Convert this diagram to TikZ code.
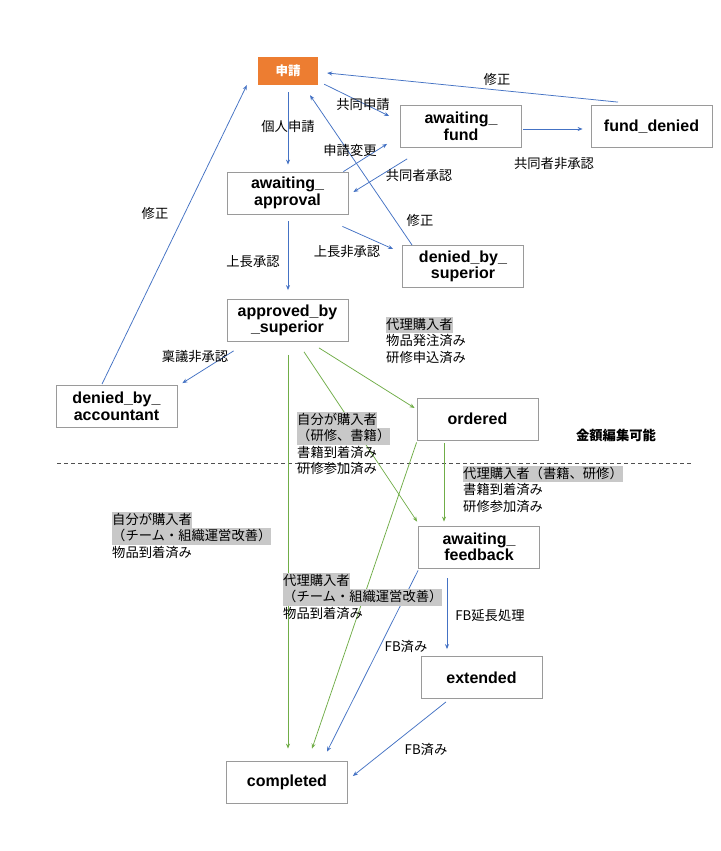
\documentclass[tikz,border=0pt]{standalone}
\usepackage{fontspec}
\setmainfont{Liberation Sans}
\newfontfamily\cjk{Noto Sans CJK JP}
\usetikzlibrary{arrows.meta,calc}
\definecolor{mblue}{HTML}{4472C4}
\definecolor{mgreen}{HTML}{70AD47}
\definecolor{morange}{HTML}{ED7D31}
\definecolor{hlgray}{HTML}{C8C8C8}
\definecolor{boxgray}{HTML}{9A9A9A}
\definecolor{dashgray}{HTML}{505050}
\newcommand{\hlline}[1]{{\setlength{\fboxsep}{0pt}\colorbox{hlgray}{\rule[-4pt]{0pt}{16.5pt}#1}}}
\newcommand{\plline}[1]{\rule[-4pt]{0pt}{16.5pt}#1}
\tikzset{
 state/.style={draw=boxgray, line width=0.8pt, fill=white, minimum width=121pt, minimum height=42pt, inner sep=0pt, align=center, font=\fontsize{16}{16.5}\selectfont\bfseries},
 lbl/.style={inner sep=0pt, font=\cjk\fontsize{13.3}{16}\selectfont},
 blk/.style={inner sep=0pt, anchor=north west, align=left, font=\cjk\fontsize{13.3}{16.5}\selectfont},
 barrow/.style={draw=mblue, line width=0.75pt, -{Stealth[length=5pt,width=4pt]}},
 garrow/.style={draw=mgreen, line width=0.75pt, -{Stealth[length=5pt,width=4pt]}},
 divider/.style={draw=dashgray, line width=1pt, dash pattern=on 4pt off 3pt},
}
\begin{document}
\begin{tikzpicture}[x=1pt,y=-1pt]
\useasboundingbox (0,0) rectangle (720,851);
\fill[white] (0,0) rectangle (720,851);

% states
\node[fill=morange, minimum width=60pt, minimum height=28pt, inner sep=0pt, text=white, font=\cjk\bfseries\fontsize{12.5}{14}\selectfont] (shinsei) at (288,71) {申請};
\node[state] (af) at (461,126.5) {awaiting\_\\fund};
\node[state] (fd) at (651.5,126.5) {fund\_denied};
\node[state] (aa) at (287.5,193) {awaiting\_\\approval};
\node[state] (dbs) at (463,266.5) {denied\_by\_\\superior};
\node[state] (abs) at (287.5,320.5) {approved\_by\\\_superior};
\node[state] (dba) at (116.5,406.5) {denied\_by\_\\accountant};
\node[state] (ord) at (477.5,419) {ordered};
\node[state] (afb) at (479,547) {awaiting\_\\feedback};
\node[state] (ext) at (481.5,677.5) {extended};
\node[state] (comp) at (287,782) {completed};

% divider
\coordinate (dl) at (57,463);
\coordinate (dr) at (693,463);
\draw[divider] (dl) -- (dr);

% blue connectors
\draw[barrow] ($(shinsei.south)+(0,7)$) -- ($(aa.north)+(0.5,-7)$);
\draw[barrow] ($(aa.south)+(0.5,7)$) -- ($(abs.north)+(0.5,-9)$);
\draw[barrow] ($(shinsei.south east)+(6,-1)$) -- ($(af.west)+(-11,-10.5)$);
\draw[barrow] ($(af.east)+(1,2.5)$) -- ($(fd.west)+(-8,2.5)$);
\draw[barrow] ($(fd.north)+(-33.5,-3)$) -- ($(shinsei.east)+(9,2)$);
\draw[barrow] ($(aa.north east)+(-5,0)$) -- ($(af.south west)+(-13,-4)$);
\draw[barrow] ($(af.south west)+(7,11)$) -- ($(aa.east)+(5,-1)$);
\draw[barrow] ($(dbs.north west)+(10,0)$) -- ($(shinsei.south)+(22,10)$);
\draw[barrow] ($(aa.south east)+(-6,12)$) -- ($(dbs.west)+(-9,-17.5)$);
\draw[barrow] ($(dba.north)+(-14.5,-1)$) -- ($(shinsei.south west)+(-11,0)$);
\draw[barrow] ($(abs.south west)+(7,9)$) -- ($(dba.north east)+(5,-2)$);
\draw[barrow] ($(afb.south)+(-32,10)$) -- ($(ext.north)+(-34.5,-7)$);
\draw[barrow] ($(afb.south west)+(0,2)$) -- ($(comp.north)+(40,-9)$);
\draw[barrow] ($(ext.south)+(-35.5,3)$) -- ($(comp.east)+(5,-6)$);

% green connectors
\draw[garrow] ($(abs.south)+(0.5,13)$) -- ($(comp.north)+(1,-12)$);
\draw[garrow] ($(abs.south)+(31.5,6)$) -- ($(ord.west)+(-2,-11)$);
\draw[garrow] ($(abs.south)+(16.5,10)$) -- ($(afb.north west)+(-1,-4)$);
\draw[garrow] ($(ord.south)+(-33.5,3)$) -- ($(afb.north)+(-35,-4)$);
\draw[garrow] ($(ord.south west)+(0,2)$) -- ($(comp.north)+(25,-12)$);

% connector labels
\node[lbl] (t1) at (288,126) {個人申請};
\node[lbl] (t2) at (363,104) {共同申請};
\node[lbl] (t3) at (350,150) {申請変更};
\node[lbl] (t4) at (419,175) {共同者承認};
\node[lbl] (t5) at (554,164) {共同者非承認};
\node[lbl] (t6) at (497,79) {修正};
\node[lbl] (t7) at (420,220) {修正};
\node[lbl] (t8) at (347,252) {上長非承認};
\node[lbl] (t9) at (253,262) {上長承認};
\node[lbl] (t10) at (155,213) {修正};
\node[lbl] (t11) at (195,357) {稟議非承認};
\node[lbl, font=\cjk\bfseries\fontsize{13.3}{16}\selectfont] (t12) at (616,435) {金額編集可能};
\node[lbl] (t13) at (490,615) {FB延長処理};
\node[lbl] (t14) at (406,647) {FB済み};
\node[lbl] (t15) at (426,750) {FB済み};

% condition blocks
\node[blk] (c1) at (386,316.4) {\hlline{代理購入者}\\\plline{物品発注済み}\\\plline{研修申込済み}};
\node[blk] (c2) at (297,411.4) {\hlline{自分が購入者}\\\hlline{（研修、書籍）}\\\plline{書籍到着済み}\\\plline{研修参加済み}};
\node[blk] (c3) at (463,465.4) {\hlline{代理購入者（書籍、研修）}\\\plline{書籍到着済み}\\\plline{研修参加済み}};
\node[blk] (c4) at (112,511.4) {\hlline{自分が購入者}\\\hlline{（チーム・組織運営改善）}\\\plline{物品到着済み}};
\node[blk] (c5) at (283,572.4) {\hlline{代理購入者}\\\hlline{（チーム・組織運営改善）}\\\plline{物品到着済み}};
\end{tikzpicture}
\end{document}
